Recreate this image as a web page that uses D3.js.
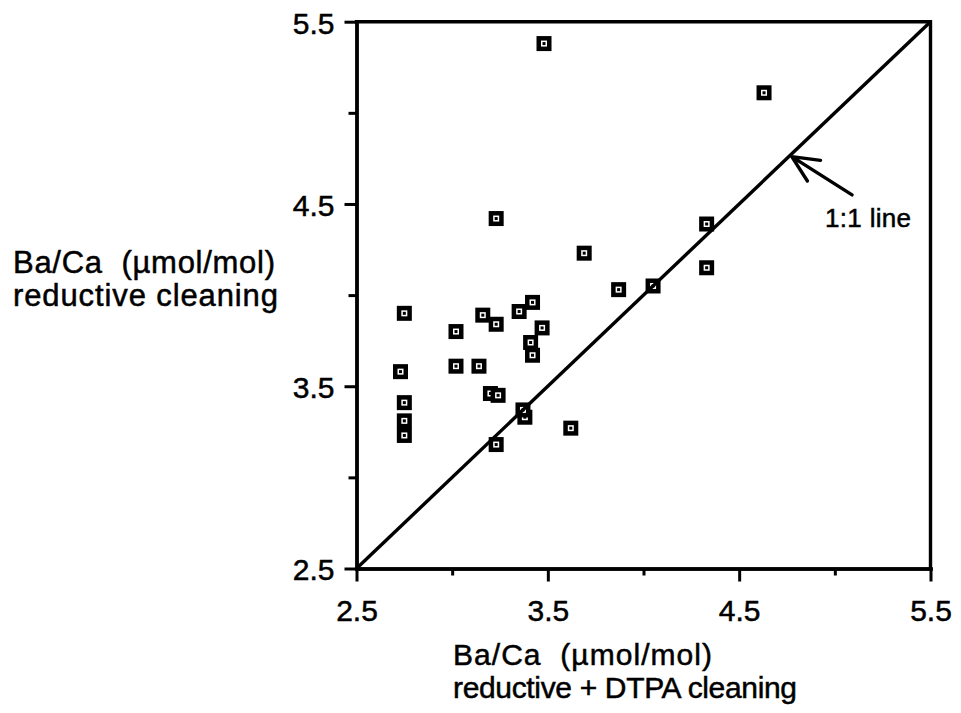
<!DOCTYPE html>
<html>
<head>
<meta charset="utf-8">
<script src="https://cdn.jsdelivr.net/npm/d3@7"></script>
<style>
  html, body { margin: 0; padding: 0; background: #fff; }
  svg { display: block; }
  text { font-family: "Liberation Sans", Arial, Helvetica, sans-serif; fill: #000; white-space: pre;
         stroke: #000; stroke-width: 0.5px; }
</style>
</head>
<body>
<svg id="chart" width="961" height="713"></svg>
<script>
// Ba/Ca measured after DTPA cleaning (x) and reductive cleaning only (y), µmol/mol
const dtpaBaCa = [
  3.48, 4.63, 3.23, 4.33, 3.69, 4.33, 3.87, 4.05, 3.42, 3.35,
  2.75, 3.16, 3.23, 3.47, 3.02, 3.41, 3.42, 3.02, 3.14, 2.73,
  3.20, 3.24, 2.75, 3.38, 3.37, 2.75, 2.75, 3.62, 3.23
];
const reductiveBaCa = [
  5.38, 5.11, 4.42, 4.39, 4.23, 4.15, 4.03, 4.05, 3.96, 3.91,
  3.90, 3.89, 3.84, 3.82, 3.80, 3.74, 3.67, 3.61, 3.61, 3.58,
  3.46, 3.45, 3.41, 3.33, 3.37, 3.31, 3.23, 3.27, 3.18
];
const axisDomain = [2.5, 5.5];
const majorTicks = [2.5, 3.5, 4.5, 5.5];
const minorTicks = [3.0, 4.0, 5.0];
const oneToOne = [2.5, 5.5];
// arrow pointing at the 1:1 line: tip and tail (data units)
const arrowTip = [4.775, 4.76];
const arrowTail = [5.09, 4.55];
const arrowLabel = "1:1 line";
const xTitle = ["Ba/Ca  (\u00b5mol/mol)", "reductive + DTPA cleaning"];
const yTitle = ["Ba/Ca  (\u00b5mol/mol)", "reductive cleaning"];

const svg = d3.select("#chart");
const plotL = 356.5, plotR = 930.5, plotT = 21.7, plotB = 568.5;

const x = d3.scaleLinear().domain(axisDomain).range([plotL, plotR]);
const y = d3.scaleLinear().domain(axisDomain).range([plotB, plotT]);
const fmt = d3.format(".1f");
const AXW = 3.4;

// frame: top and right edges
svg.append("path")
  .attr("d", `M${x(axisDomain[0])},${y(axisDomain[1])}H${x(axisDomain[1])}V${y(axisDomain[0])}`)
  .attr("fill", "none").attr("stroke", "#000").attr("stroke-width", AXW)
  .attr("stroke-linecap", "square");

// minor ticks
svg.append("g").attr("transform", `translate(0,${plotB})`)
  .call(d3.axisBottom(x).tickValues(minorTicks).tickSize(7).tickSizeOuter(0).tickFormat(""));
svg.append("g").attr("transform", `translate(${plotL},0)`)
  .call(d3.axisLeft(y).tickValues(minorTicks).tickSize(8).tickSizeOuter(0).tickFormat(""));

// major ticks with labels
svg.append("g").attr("class", "xaxis").attr("transform", `translate(0,${plotB})`)
  .call(d3.axisBottom(x).tickValues(majorTicks).tickSize(13).tickPadding(18).tickSizeOuter(0).tickFormat(fmt));
svg.append("g").attr("class", "yaxis").attr("transform", `translate(${plotL},0)`)
  .call(d3.axisLeft(y).tickValues(majorTicks).tickSize(12).tickPadding(10).tickSizeOuter(0).tickFormat(fmt));

svg.selectAll(".domain").attr("stroke", "#000").attr("stroke-width", AXW).attr("stroke-linecap", "square");
svg.selectAll(".tick line").attr("stroke", "#000").attr("stroke-width", 3);
svg.selectAll(".tick text").attr("font-size", 30).attr("font-family", null).attr("fill", "#000");
svg.selectAll(".yaxis .tick text").attr("dy", "0.38em");

// data markers: black square with hollow white centre
const pts = dtpaBaCa.map((v, i) => [v, reductiveBaCa[i]]);
const mk = svg.append("g").selectAll("g").data(pts).join("g")
  .attr("transform", d => `translate(${x(d[0])},${y(d[1])})`);
mk.append("rect").attr("x", -7.5).attr("y", -7.5).attr("width", 15).attr("height", 15).attr("fill", "#000");
mk.append("rect").attr("x", -3).attr("y", -3).attr("width", 6).attr("height", 6).attr("fill", "#fff");
mk.append("rect").attr("x", -1.5).attr("y", -1.5).attr("width", 3).attr("height", 3).attr("fill", "#000");

// 1:1 line
svg.append("line")
  .attr("x1", x(oneToOne[0])).attr("y1", y(oneToOne[0]))
  .attr("x2", x(oneToOne[1])).attr("y2", y(oneToOne[1]))
  .attr("stroke", "#000").attr("stroke-width", 3.4);

// arrow and label
const tx = x(arrowTip[0]), ty = y(arrowTip[1]);
const ex = x(arrowTail[0]), ey = y(arrowTail[1]);
const ang = Math.atan2(ey - ty, ex - tx);
const headLen = 29, spread = 25 * Math.PI / 180;
const h1 = [tx + headLen * Math.cos(ang - spread), ty + headLen * Math.sin(ang - spread)];
const h2 = [tx + headLen * Math.cos(ang + spread), ty + headLen * Math.sin(ang + spread)];
svg.append("path")
  .attr("d", `M${ex},${ey}L${tx},${ty}M${h1[0]},${h1[1]}L${tx},${ty}L${h2[0]},${h2[1]}`)
  .attr("fill", "none").attr("stroke", "#000").attr("stroke-width", 3.4)
  .attr("stroke-linecap", "round").attr("stroke-linejoin", "round");
svg.append("text")
  .attr("x", ex - 27).attr("y", ey + 32)
  .attr("font-size", 26).attr("textLength", 86).attr("lengthAdjust", "spacing")
  .text(arrowLabel);

// axis titles
const xt = svg.append("text").attr("font-size", 30);
const xLens = [259, 344];
xTitle.forEach((s, i) => xt.append("tspan").attr("x", 453).attr("y", 665 + i * 33)
  .attr("textLength", xLens[i]).attr("lengthAdjust", "spacing").text(s));
const yt = svg.append("text").attr("font-size", 31);
const yLens = [262, 265];
yTitle.forEach((s, i) => yt.append("tspan").attr("x", 13).attr("y", 273 + i * 33)
  .attr("textLength", yLens[i]).attr("lengthAdjust", "spacing").text(s));
</script>
</body>
</html>
